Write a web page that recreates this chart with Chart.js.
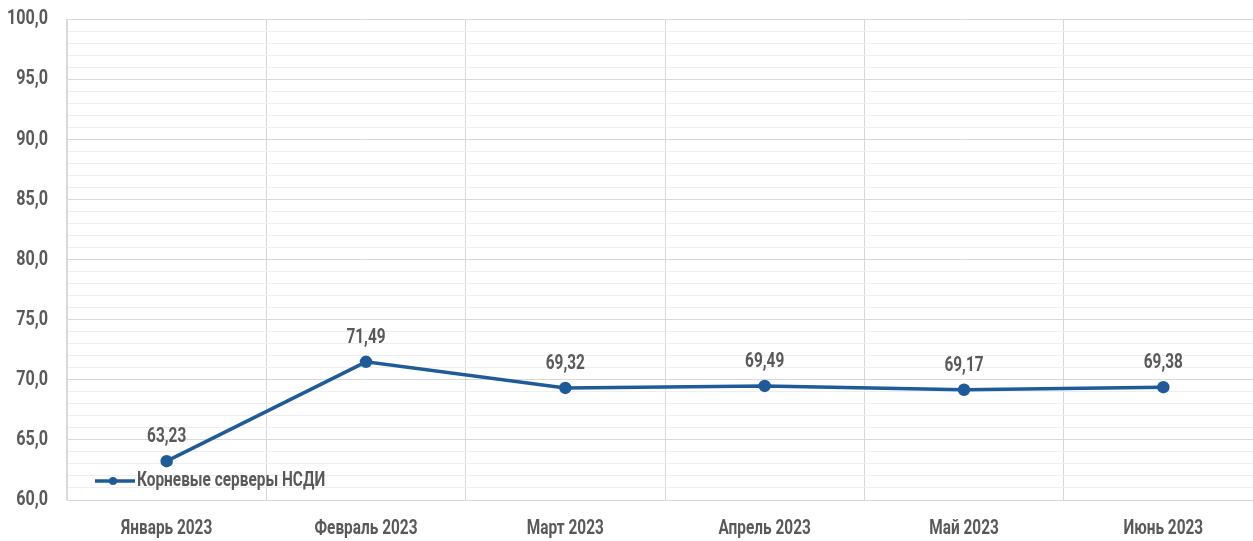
<!DOCTYPE html>
<html>
<head>
<meta charset="utf-8">
<script src="https://cdn.jsdelivr.net/npm/chart.js@4/dist/chart.umd.min.js"></script>
<style>
  html, body { margin: 0; padding: 0; background: #fff; overflow: hidden; }
</style>
</head>
<body>
<!-- a bit wider than the window: the plot runs past the picture's right edge -->
<canvas id="chart" width="1264" height="541"></canvas>
<script>
// data
const months = ['Январь 2023', 'Февраль 2023', 'Март 2023', 'Апрель 2023', 'Май 2023', 'Июнь 2023'];
const rootServers = [63.23, 71.49, 69.32, 69.49, 69.17, 69.38];
const seriesName = 'Корневые серверы НСДИ';
const yMin = 60;
const yMax = 100;
const yMajorStep = 5;

const FONT = 'Roboto, sans-serif';
const GREY = '#595959';
const BLUE = '#1f5b98';
const SQUEEZE = 0.77; // the original uses a condensed face

const fmt = (v, d) => v.toFixed(d).replace('.', ',');

// condensed text: Roboto squeezed horizontally
function condText(ctx, text, x, y, size, align) {
  ctx.save();
  ctx.font = 'bold ' + size + 'px ' + FONT;
  ctx.fillStyle = GREY;
  ctx.textAlign = align;
  ctx.textBaseline = 'middle';
  ctx.translate(x, y);
  ctx.scale(SQUEEZE, 1);
  ctx.fillText(text, 0, 0);
  ctx.restore();
}

// axis labels, value labels and the inner legend
const labelsPlugin = {
  id: 'labelsPlugin',
  afterDatasetsDraw(chart) {
    const ctx = chart.ctx;
    const xs = chart.scales.x;
    const ys = chart.scales.y;
    const area = chart.chartArea;

    for (let v = yMin; v <= yMax; v += yMajorStep) {
      condText(ctx, fmt(v, 1), area.left - 19, ys.getPixelForValue(v), 21, 'right');
    }
    months.forEach((m, i) => {
      condText(ctx, m, xs.getPixelForValue(i), area.bottom + 29, 20, 'center');
    });

    const meta = chart.getDatasetMeta(0);
    meta.data.forEach((pt, i) => {
      condText(ctx, fmt(rootServers[i], 2), pt.x, pt.y - 24, 20, 'center');
    });

    const ly = area.bottom - 19;
    const lx = area.left + 28;
    ctx.save();
    ctx.strokeStyle = BLUE;
    ctx.lineWidth = 3.5;
    ctx.beginPath();
    ctx.moveTo(lx, ly);
    ctx.lineTo(lx + 40, ly);
    ctx.stroke();
    ctx.fillStyle = BLUE;
    ctx.beginPath();
    ctx.arc(lx + 18, ly, 4, 0, Math.PI * 2);
    ctx.fill();
    ctx.restore();
    condText(ctx, seriesName, lx + 42, ly, 20, 'left');
  }
};

new Chart(document.getElementById('chart'), {
  type: 'line',
  data: {
    labels: months,
    datasets: [{
      label: seriesName,
      data: rootServers,
      borderColor: BLUE,
      backgroundColor: BLUE,
      borderWidth: 3.5,
      pointRadius: 4.5,
      pointHoverRadius: 4.5,
      tension: 0
    }]
  },
  options: {
    responsive: false,
    animation: false,
    layout: { autoPadding: false, padding: { top: 19, right: 1, bottom: 0, left: 0 } },
    plugins: {
      legend: { display: false },
      tooltip: { enabled: false }
    },
    scales: {
      x: {
        offset: true,
        grid: { offset: true, color: '#d9d9d9', drawTicks: false },
        border: { color: '#d9d9d9' },
        ticks: { display: false },
        afterFit(scale) { scale.height = 41; }
      },
      y: {
        min: yMin,
        max: yMax,
        grid: {
          drawTicks: false,
          color: ctx => (ctx.tick && ctx.tick.value % yMajorStep === 0) ? '#d9d9d9' : '#eeeeee'
        },
        border: { color: '#d9d9d9' },
        ticks: { display: false, stepSize: 1, autoSkip: false },
        afterFit(scale) { scale.width = 67; }
      }
    }
  },
  plugins: [labelsPlugin]
});
</script>
</body>
</html>
